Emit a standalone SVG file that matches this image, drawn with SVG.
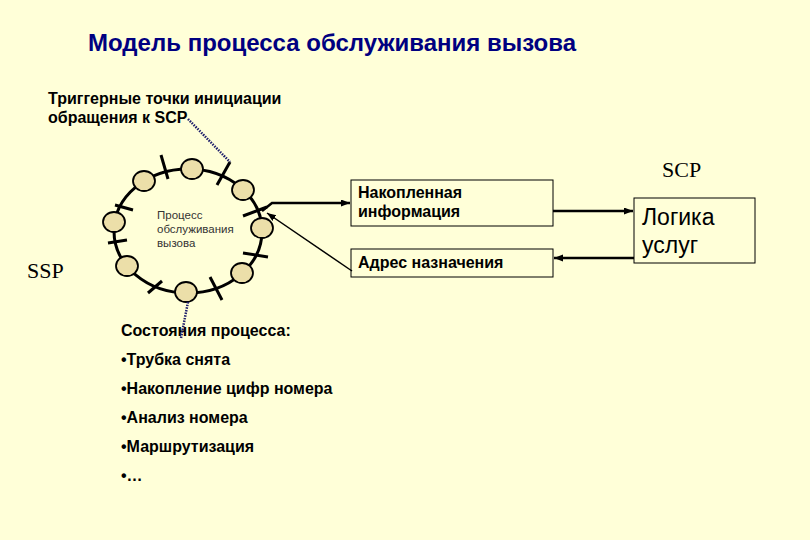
<svg xmlns="http://www.w3.org/2000/svg" width="810" height="540" viewBox="0 0 810 540">
<defs>
<marker id="ah" markerUnits="userSpaceOnUse" markerWidth="10" markerHeight="8" refX="9" refY="3.5" orient="auto">
<path d="M0,0 L9,3.5 L0,7 z" fill="#000"/>
</marker>
</defs>
<style>
.b{font-family:"Liberation Sans",Arial,sans-serif;font-weight:bold;font-size:16px;fill:#000}
.r{font-family:"Liberation Sans",Arial,sans-serif;font-size:23px;fill:#000}
.s{font-family:"Liberation Sans",Arial,sans-serif;font-size:11.5px;fill:#333}
.t{font-family:"Liberation Serif","Times New Roman",serif;font-size:22px;fill:#000}
.box{fill:none;stroke:#000;stroke-width:1}
.st{fill:#ECDFA9;stroke:#000;stroke-width:1.8}
.tk{stroke:#000;stroke-width:3;fill:none}
.dot{stroke:#1C1C6A;stroke-width:2.5;stroke-dasharray:1.5 1.2;fill:none}
.ar{stroke:#000;stroke-width:2.5;fill:none;marker-end:url(#ah)}
</style>
<rect width="810" height="540" fill="#FFFFD8"/>
<text id="title" x="88" y="51" textLength="488" lengthAdjust="spacingAndGlyphs" style="font-family:'Liberation Sans',Arial,sans-serif;font-weight:bold;font-size:23.5px;fill:#000080">Модель процесса обслуживания вызова</text>
<g id="trigger-label">
<text class="b" x="48" y="104">Триггерные точки инициации</text>
<text class="b" x="48" y="123">обращения к SCP</text>
</g>
<text id="scp-label" class="t" x="662" y="177">SCP</text>
<text id="ssp-label" class="t" x="27" y="278">SSP</text>
<g id="process-ring">
<ellipse cx="188" cy="231" rx="74" ry="62" class="tk"/>
<line class="tk" x1="161" y1="155" x2="168" y2="179"/>
<line class="tk" x1="230" y1="162" x2="217" y2="185"/>
<line class="tk" x1="243" y1="216" x2="267" y2="207"/>
<line class="tk" x1="243" y1="253" x2="268" y2="257"/>
<line class="tk" x1="210" y1="277" x2="222" y2="300"/>
<line class="tk" x1="148" y1="293" x2="162" y2="281"/>
<line class="tk" x1="108" y1="243" x2="127" y2="240"/>
<line class="tk" x1="115" y1="205" x2="133" y2="210"/>
<ellipse class="st" cx="192" cy="169" rx="11" ry="10"/>
<ellipse class="st" cx="144" cy="181" rx="11" ry="10"/>
<ellipse class="st" cx="243" cy="190" rx="11" ry="10"/>
<ellipse class="st" cx="262" cy="228" rx="11" ry="10"/>
<ellipse class="st" cx="242" cy="273" rx="11" ry="10"/>
<ellipse class="st" cx="186" cy="292" rx="11" ry="10"/>
<ellipse class="st" cx="127" cy="266" rx="11" ry="10"/>
<ellipse class="st" cx="114" cy="222" rx="11" ry="10"/>
<text class="s" x="157" y="219">Процесс</text>
<text class="s" x="157" y="233">обслуживания</text>
<text class="s" x="157" y="247">вызова</text>
</g>
<g id="states-list">
<text class="b" x="121" y="336">Состояния процесса:</text>
<text class="b" x="121" y="365">•Трубка снята</text>
<text class="b" x="121" y="394">•Накопление цифр номера</text>
<text class="b" x="121" y="423">•Анализ номера</text>
<text class="b" x="121" y="452">•Маршрутизация</text>
<text class="b" x="121" y="481">•…</text>
</g>
<g id="box-accumulated">
<rect class="box" x="351" y="180" width="202" height="46"/>
<text class="b" x="358" y="198">Накопленная</text>
<text class="b" x="358" y="217">информация</text>
</g>
<g id="box-address">
<rect class="box" x="351" y="249" width="202" height="28"/>
<text class="b" x="358" y="268">Адрес назначения</text>
</g>
<g id="box-logic">
<rect class="box" x="634" y="198" width="121" height="65"/>
<text class="r" x="642" y="225">Логика</text>
<text class="r" x="642" y="253">услуг</text>
</g>
<g id="connectors">
<line class="dot" x1="188" y1="119" x2="230" y2="162"/>
<line class="dot" x1="188" y1="302" x2="181" y2="338"/>
<polyline class="ar" points="262,211 272,203 350,203"/>
<line x1="352" y1="271" x2="267" y2="213" stroke="#000" stroke-width="1.5" marker-end="url(#ah)"/>
<line class="ar" x1="553" y1="211" x2="633" y2="211"/>
<line class="ar" x1="634" y1="258" x2="554" y2="258"/>
</g>
</svg>
